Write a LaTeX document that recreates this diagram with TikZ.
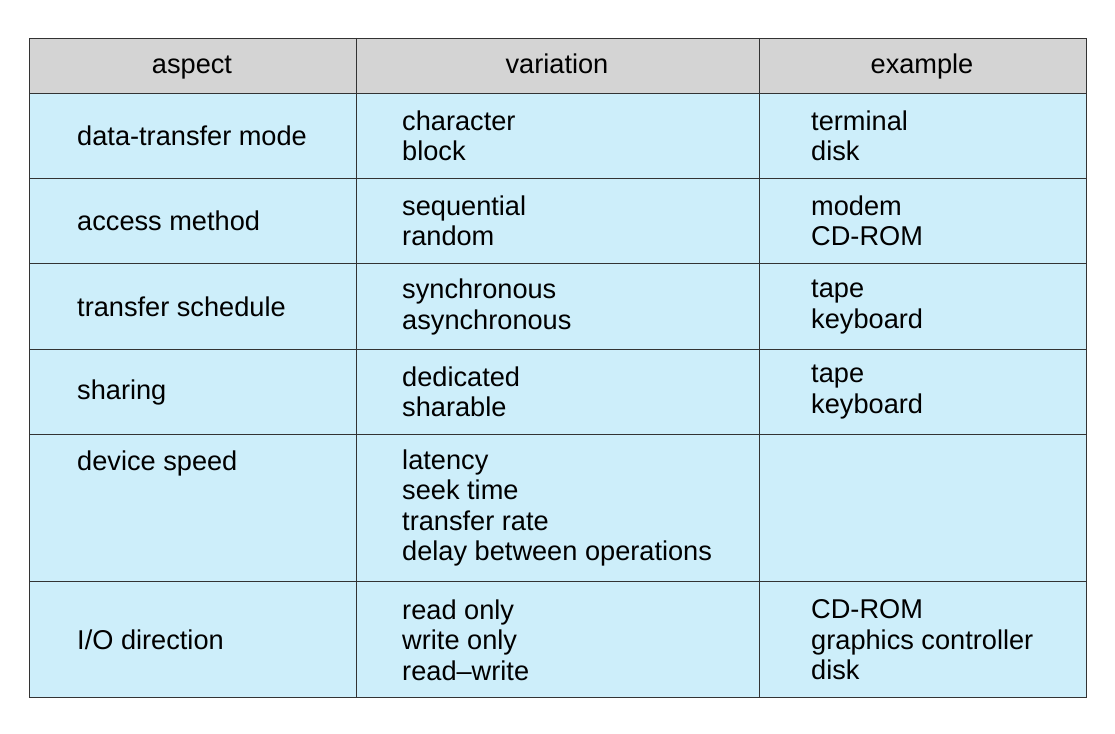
\documentclass[tikz,border=0pt]{standalone}
\usepackage{fontspec}
\setmainfont{Liberation Sans}
\colorlet{headcolor}{black!17}
\definecolor{bodycolor}{RGB}{205,238,250}
\colorlet{rulecolor}{black!80}
\tikzset{cell/.style={anchor=west, align=left, inner sep=0pt, font=\fontsize{23.2}{26}\selectfont},%
    headcell/.style={anchor=base, inner sep=0pt, font=\fontsize{23.2}{26}\selectfont},%
    rule/.style={draw=rulecolor, line width=0.8pt}%
}
\begin{document}
\begin{tikzpicture}[x=0.03cm, y=-0.03cm]
            \useasboundingbox (0,0) rectangle (1115,734);
            \begin{scope} %fills
                \fill[headcolor] (29,38) rectangle (1086,93);
                \fill[bodycolor] (29,93) rectangle (1086,697);
            \end{scope}
            \begin{scope} %draw rules
                \foreach \ypos in {93,178,263,349,434,581}
                    \draw[rule] (29,\ypos) -- (1086,\ypos);
                \draw[rule] (29,38) rectangle (1086,697);
                \draw[rule] (356,38) -- (356,697);
                \draw[rule] (759,38) -- (759,697);
            \end{scope}
            \begin{scope} %header
                \node[headcell] (haspect) at (192,74) {aspect};
                \node[headcell] (hvariation) at (557,74) {variation};
                \node[headcell] (hexample) at (922,74) {example};
            \end{scope}
            \begin{scope} %rows
                \node[cell] (atransfer) at (77,136) {data-transfer mode};
                \node[cell] (vtransfer) at (402,136) {character\\block};
                \node[cell] (etransfer) at (811,136) {terminal\\disk};
                \node[cell] (aaccess) at (77,221) {access method};
                \node[cell] (vaccess) at (402,221) {sequential\\random};
                \node[cell] (eaccess) at (811,221) {modem\\CD-ROM};
                \node[cell] (aschedule) at (77,307) {transfer schedule};
                \node[cell] (vschedule) at (402,307) {synchronous\\asynchronous};
                \node[cell] (eschedule) at (811,307) {tape\\keyboard};
                \node[cell] (asharing) at (77,392) {sharing};
                \node[cell] (vsharing) at (402,392) {dedicated\\sharable};
                \node[cell] (esharing) at (811,392) {tape\\keyboard};
                \node[cell] (aspeed) at (77,463) {device speed};
                \node[cell] (vspeed) at (402,508) {latency\\seek time\\transfer rate\\delay between operations};
                \node[cell] (adirection) at (77,640) {I/O direction};
                \node[cell] (vdirection) at (402,640) {read only\\write only\\read--write};
                \node[cell] (edirection) at (811,640) {CD-ROM\\graphics controller\\disk};
            \end{scope}
        \end{tikzpicture}
\end{document}
